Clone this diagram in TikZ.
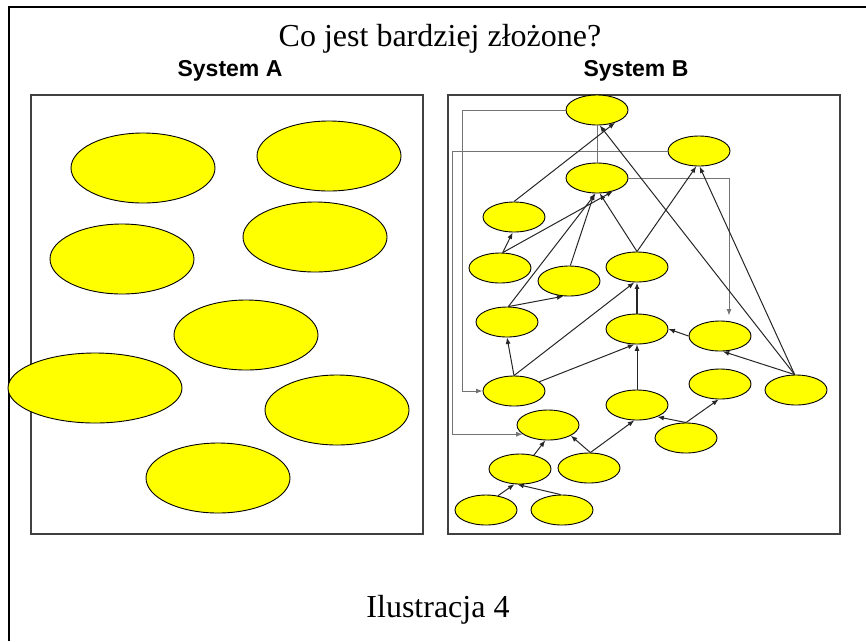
\documentclass[tikz,border=0pt]{standalone}
\usepackage{fontspec}
\setmainfont{Liberation Serif}
\setsansfont{Liberation Sans}
\usetikzlibrary{shapes.geometric,arrows.meta,calc}
\definecolor{ylw}{RGB}{255,255,0}
\begin{document}
\begin{tikzpicture}[x=1pt,y=-1pt,
  bigell/.style={ellipse,draw=black,line width=0.9pt,fill=ylw,minimum width=144pt,minimum height=70pt,inner sep=0pt},
  smell/.style={ellipse,draw=black,line width=0.9pt,fill=ylw,minimum width=62pt,minimum height=30pt,inner sep=0pt},
  arr/.style={draw=black!85,line width=1pt,-{Latex[length=6.5pt,width=5pt]}},
  route/.style={draw=black!55,line width=1pt},
  sysbox/.style={draw=black!75,line width=1.3pt},
  titletext/.style={anchor=base,font=\fontsize{32}{38}\selectfont},
  systext/.style={anchor=base,font=\sffamily\bfseries\fontsize{23}{28}\selectfont}]
\useasboundingbox (0,0) rectangle (866,641);
% outer frame (cropped on right and bottom)
\draw[line width=2.5pt] (9,641) -- (9,7) -- (866,7);
% texts
\node[titletext] (title) at (440,46) {Co jest bardziej złożone?};
\node[systext] (la) at (230,76) {System A};
\node[systext] (lb) at (636,76) {System B};
\node[titletext] (capt) at (438,617) {Ilustracja 4};
% boxes
\draw[sysbox] (31,95) rectangle (423,534);
\draw[sysbox] (448,95) rectangle (840,534);
% System A
\node[bigell] (a1) at (143,168) {};
\node[bigell] (a2) at (329,156) {};
\node[bigell] (a3) at (122,259) {};
\node[bigell] (a4) at (315,237) {};
\node[bigell] (a5) at (246,335) {};
\node[bigell,minimum width=174pt] (a6) at (95,388) {};
\node[bigell] (a7) at (337,410) {};
\node[bigell] (a8) at (218,478) {};
% System B nodes
\node[smell] (T) at (597,110) {};
\node[smell] (M) at (597,178) {};
\node[smell] (R) at (699,151) {};
\node[smell] (L) at (514,217) {};
\node[smell] (na) at (500,268) {};
\node[smell] (nb) at (569,281) {};
\node[smell] (nc) at (637,267) {};
\node[smell] (nd) at (507,322) {};
\node[smell] (ne) at (637,329) {};
\node[smell] (nf) at (720,336) {};
\node[smell] (ng) at (514,391) {};
\node[smell] (nh) at (720,384) {};
\node[smell] (ni) at (796,390) {};
\node[smell] (nj) at (637,405) {};
\node[smell] (nk) at (548,425) {};
\node[smell] (nl) at (686,438) {};
\node[smell] (nm) at (520,469) {};
\node[smell] (nn) at (589,468) {};
\node[smell] (no) at (486,510) {};
\node[smell] (np) at (562,510) {};
% routed grey connectors
\coordinate (tg) at (462,110);
\coordinate (rk) at (452,151);
\coordinate (mf) at (729,178);
\draw[route] (M.north) -- (T.south);
\draw[route,-{Latex[length=6.5pt,width=5pt]}] (T.west) -- (tg) |- (ng.west);
\draw[route,-{Latex[length=6.5pt,width=5pt]}] (R.west) -- (rk) |- (nk.200);
\draw[route,-{Latex[length=6.5pt,width=5pt]},shorten >=5pt] (M.east) -- (mf) -- (mf |- nf.north);
% arrows
\draw[arr] (L.north) -- (T.-35);
\draw[arr] (ni.95) -- (T.-80);
\draw[arr] (ni.95) -- (R.-88);
\draw[arr] (ni.95) -- (nf.-80);
\draw[arr] (nc.north) -- (R.-100);
\draw[arr] (nc.north) -- (M.-80);
\draw[arr] (na.80) -- (M.-40);
\draw[arr] (na.80) -- (L.-95);
\draw[arr] (nd.85) -- (M.-95);
\draw[arr] (nd.85) -- (nb.-110);
\draw[arr] (nb.85) -- (M.-100);
\draw[arr,line width=1.5pt] (ne.north) -- (nc.south);
\draw[arr] (nf.west) -- (ne.east);
\draw[arr] (ng.north) -- (nd.south);
\draw[arr] (ng.north) -- (nc.-100);
\draw[arr] (ng.20) -- (ne.-100);
\draw[arr] (nj.north) -- (ne.south);
\draw[arr] (nn.85) -- (nj.-100);
\draw[arr] (nn.85) -- (nk.-25);
\draw[arr] (nl.north) -- (nj.-30);
\draw[arr] (nl.north) -- (nh.-95);
\draw[arr] (nm.45) -- (nk.-100);
\draw[arr] (no.50) -- (nm.-110);
\draw[arr] (np.95) -- (nm.-100);
\end{tikzpicture}
\end{document}
